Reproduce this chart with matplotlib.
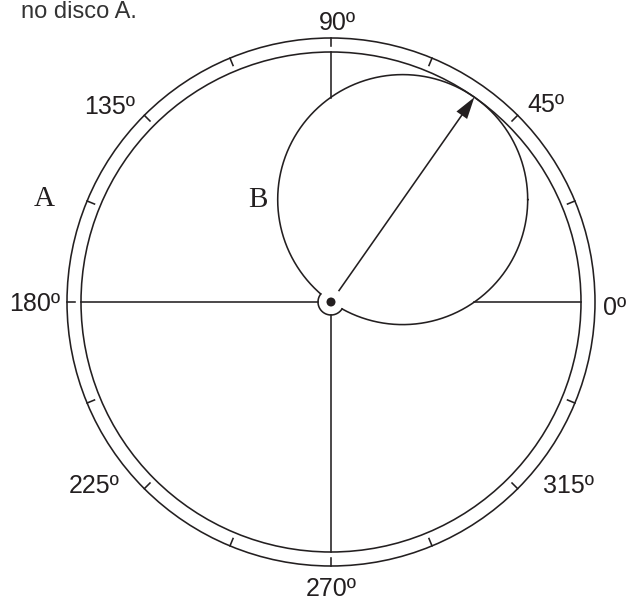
import numpy as np
import matplotlib
matplotlib.use("Agg")
import matplotlib.pyplot as plt
from matplotlib.patches import Circle, Polygon

# angle labels around disc A
angle_labels = ["0º", "45º", "90º", "135º", "180º", "225º", "270º", "315º"]
# tick marks on the outer ring (degrees)
tick_angles = [22.5, 45, 67.5, 90, 112.5, 135, 157.5, 180,
               202.5, 225, 247.5, 270, 292.5, 315, 337.5]
# direction of the arrow / disc B (degrees)
arrow_angle = 55.0

# geometry in pixel units
cx, cy = 331, 302
r_out, r_in = 264, 250
r_b = r_in / 2
r_hub, r_dot = 13, 4.5
tick_len = 8

label_pos = [(615, 308), (546, 105), (337, 23), (110, 107),
             (35, 304), (94, 486), (331, 589), (568, 486)]

ink = "#231f20"
lw = 1.15

fig = plt.figure(figsize=(6.29, 6.00), dpi=100)
ax = fig.add_axes([0, 0, 1, 1])
ax.set_xlim(0, 629)
ax.set_ylim(600, 0)
ax.axis("off")


def pt(r, deg, x0=cx, y0=cy):
    a = np.radians(deg)
    return x0 + r * np.cos(a), y0 - r * np.sin(a)


# disc A rings
ax.add_patch(Circle((cx, cy), r_out, fill=False, ec=ink, lw=lw))
ax.add_patch(Circle((cx, cy), r_in, fill=False, ec=ink, lw=lw))

# ticks on the ring
for t in tick_angles:
    x1, y1 = pt(r_out, t)
    x2, y2 = pt(r_out - tick_len, t)
    ax.plot([x1, x2], [y1, y2], color=ink, lw=lw)

# disc B
bx, by = pt(r_b, arrow_angle)
theta = np.linspace(0, 2 * np.pi, 721)
xs = bx + r_b * np.cos(theta)
ys = by - r_b * np.sin(theta)
outside_hub = np.hypot(xs - cx, ys - cy) > r_hub
xs_m = np.where(outside_hub, xs, np.nan)
ys_m = np.where(outside_hub, ys, np.nan)
ax.plot(xs_m, ys_m, color=ink, lw=lw)

# cross lines (hidden inside disc B)
def seg(d0, d1, deg):
    r = np.linspace(d0, d1, 400)
    x, y = pt(r, deg)
    inside_b = np.hypot(x - bx, y - by) < r_b - 0.5
    x = np.where(inside_b, np.nan, x)
    ax.plot(x, y, color=ink, lw=lw)

for d in [0, 90, 180, 270]:
    seg(r_hub, r_in, d)

# hub arc (only the part outside disc B)
half = np.degrees(np.arccos(r_hub / (2 * r_b)))
phi = np.linspace(arrow_angle + half, arrow_angle + 360 - half, 200)
hx, hy = pt(r_hub, phi)
ax.plot(hx, hy, color=ink, lw=lw)
ax.add_patch(Circle((cx, cy), r_dot, color=ink, lw=0))

# arrow (diameter of B)
head_len, head_w = 22, 6.5
tx, ty = pt(2 * r_b, arrow_angle)
sx, sy = pt(r_hub + 1, arrow_angle)
hbx, hby = pt(2 * r_b - head_len, arrow_angle)
ax.plot([sx, hbx], [sy, hby], color=ink, lw=lw)
nx, ny = np.cos(np.radians(arrow_angle + 90)), -np.sin(np.radians(arrow_angle + 90))
ax.add_patch(Polygon([(tx, ty), (hbx + head_w * nx, hby + head_w * ny),
                      (hbx - head_w * nx, hby - head_w * ny)],
                     closed=True, color=ink, lw=0))

# labels
for lab, (x, y) in zip(angle_labels, label_pos):
    ax.text(x, y, lab, fontsize=18, family="Liberation Sans", color=ink,
            ha="center", va="center")

ax.text(44, 199, "A", fontsize=21, family="Liberation Serif", color=ink,
        ha="center", va="center")
ax.text(258, 200, "B", fontsize=21, family="Liberation Serif", color=ink,
        ha="center", va="center")

ax.text(21, 17.5, "no disco A.", fontsize=17, family="Liberation Sans",
        color="#333333", ha="left", va="baseline")

fig.savefig("out.png", dpi=100)
